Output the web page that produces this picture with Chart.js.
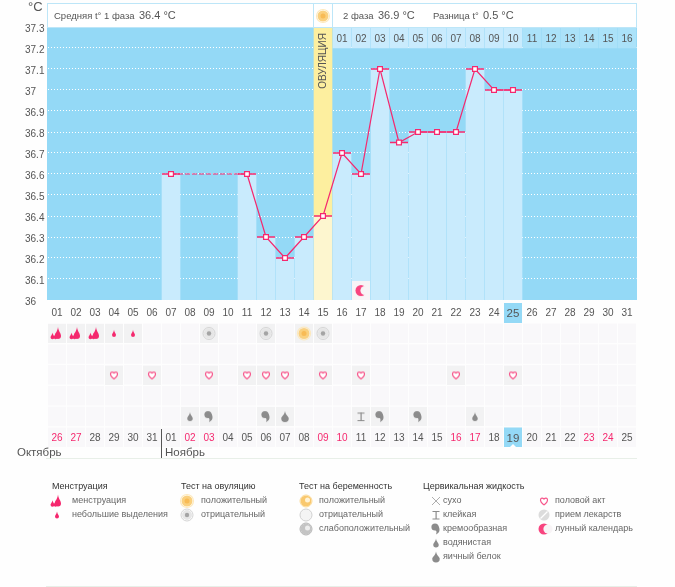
<!DOCTYPE html>
<html>
<head>
<meta charset="utf-8">
<style>
  body { margin: 0; background: #fefefe; }
  canvas { position: absolute; left: 0; }
</style>
<script src="https://cdn.jsdelivr.net/npm/chart.js@4/dist/chart.umd.js"></script>
</head>
<body>
<canvas id="tempChart" width="675" height="323" style="top:0"></canvas>
<canvas id="rowsChart" width="675" height="264" style="top:323px"></canvas>
<script>
const days = ['01', '02', '03', '04', '05', '06', '07', '08', '09', '10', '11', '12', '13', '14', '15', '16', '17', '18', '19', '20', '21', '22', '23', '24', '25', '26', '27', '28', '29', '30', '31']
const dates = ['26', '27', '28', '29', '30', '31', '01', '02', '03', '04', '05', '06', '07', '08', '09', '10', '11', '12', '13', '14', '15', '16', '17', '18', '19', '20', '21', '22', '23', '24', '25']
const redDates = [0, 1, 7, 8, 14, 15, 21, 22, 28, 29]
const temps = [null, null, null, null, null, null, 36.6, null, null, null, 36.6, 36.3, 36.2, 36.3, 36.4, 36.7, 36.6, 37.1, 36.75, 36.8, 36.8, 36.8, 37.1, 37, 37, null, null, null, null, null, null]
const yTicks = [36, 36.1, 36.2, 36.3, 36.4, 36.5, 36.6, 36.7, 36.8, 36.9, 37, 37.1, 37.2, 37.3]
const phase2Days = ['01', '02', '03', '04', '05', '06', '07', '08', '09', '10', '11', '12', '13', '14', '15', '16']
const ovulationDay = '15'
const today = '25'
const moonDays = ['17']

const heavyDays = ['01', '02', '03']
const lightDays = ['04', '05']
const ovuPosDays = ['14']
const ovuNegDays = ['09', '12', '15']
const sexDays = ['04', '06', '09', '11', '12', '13', '15', '17', '22', '25']
const wateryDays = ['08', '23']
const creamyDays = ['09', '12', '18', '20']
const eggDays = ['13']
const stickyDays = ['17']

const PINK = '#f5286e'
const GREY = '#8c8c8c'
const TEXT = '#555'
const SKY = '#94d9f6'
const PALE = '#c9ebfd'
const FAMILY = 'Liberation Sans'
const FONT = '"Liberation Sans"'

function drop (ctx, x, y, w, h, color) {
  ctx.fillStyle = color
  ctx.beginPath()
  ctx.moveTo(x, y - h / 2)
  ctx.bezierCurveTo(x + w * 0.1, y - h * 0.1, x + w / 2, y, x + w / 2, y + h / 2 - w / 2)
  ctx.arc(x, y + h / 2 - w / 2, w / 2, 0, Math.PI)
  ctx.bezierCurveTo(x - w / 2, y, x - w * 0.1, y - h * 0.1, x, y - h / 2)
  ctx.fill()
}

function disc (ctx, x, y, r, color) {
  ctx.fillStyle = color
  ctx.beginPath()
  ctx.arc(x, y, r, 0, Math.PI * 2)
  ctx.fill()
}

function ring (ctx, x, y, r, color, width) {
  ctx.strokeStyle = color
  ctx.lineWidth = width
  ctx.beginPath()
  ctx.arc(x, y, r, 0, Math.PI * 2)
  ctx.stroke()
}

const icons = {
  heavy (ctx, x, y) {
    drop(ctx, x - 4.5, y + 2.5, 4, 6.5, PINK)
    drop(ctx, x + 1, y - 0.5, 6, 12, PINK)
    drop(ctx, x - 1.5, y + 2.5, 3.5, 6.5, PINK)
  },
  light (ctx, x, y) {
    drop(ctx, x, y, 4, 7, PINK)
  },
  ovuPos (ctx, x, y) {
    disc(ctx, x, y, 5.5, '#fad07e')
    ring(ctx, x, y, 6.5, '#fde9bd', 1.2)
    disc(ctx, x, y, 2.5, '#f8bb55')
  },
  ovuNeg (ctx, x, y) {
    disc(ctx, x, y, 5, '#e6e6e6')
    ring(ctx, x, y, 6, '#d4d4d4', 1)
    disc(ctx, x, y, 2.2, '#a4a4a4')
  },
  pregPos (ctx, x, y) {
    disc(ctx, x, y, 5.5, '#f9c86e')
    ring(ctx, x, y, 6, '#fbd996', 1)
    disc(ctx, x + 1.5, y - 1, 2.5, '#fff3d6')
  },
  pregNeg (ctx, x, y) {
    disc(ctx, x, y, 5.5, '#f4f4f4')
    ring(ctx, x, y, 6, '#cfcfcf', 1)
  },
  pregWeak (ctx, x, y) {
    disc(ctx, x, y, 5.5, '#c4c4c4')
    ring(ctx, x, y, 6, '#b4b4b4', 1)
    disc(ctx, x + 1.5, y - 1, 2.5, '#eee')
  },
  heart (ctx, x, y) {
    ctx.strokeStyle = '#f7578c'
    ctx.fillStyle = '#fff'
    ctx.lineWidth = 1.2
    ctx.beginPath()
    ctx.moveTo(x, y + 4)
    ctx.bezierCurveTo(x - 6, y - 0.5, x - 3, y - 5, x, y - 2)
    ctx.bezierCurveTo(x + 3, y - 5, x + 6, y - 0.5, x, y + 4)
    ctx.fill()
    ctx.stroke()
  },
  dry (ctx, x, y) {
    ctx.strokeStyle = '#999'
    ctx.lineWidth = 0.8
    ctx.beginPath()
    ctx.moveTo(x - 4, y - 4)
    ctx.lineTo(x + 4, y + 4)
    ctx.moveTo(x + 4, y - 4)
    ctx.lineTo(x - 4, y + 4)
    ctx.stroke()
  },
  sticky (ctx, x, y) {
    ctx.fillStyle = GREY
    ctx.fillRect(x - 3.5, y - 4, 7, 1)
    ctx.fillRect(x - 0.5, y - 4, 1.2, 8)
    ctx.fillRect(x - 3.5, y + 3.5, 7, 1)
  },
  creamy (ctx, x, y) {
    ctx.fillStyle = GREY
    ctx.beginPath()
    ctx.arc(x - 1, y - 2, 3.6, 0, Math.PI * 2)
    ctx.fill()
    ctx.beginPath()
    ctx.moveTo(x + 2.5, y - 3)
    ctx.bezierCurveTo(x + 4.5, y + 1, x + 3.5, y + 4, x, y + 5.5)
    ctx.bezierCurveTo(x + 1, y + 3, x + 0.5, y + 1.5, x - 1, y + 1)
    ctx.fill()
  },
  watery (ctx, x, y) {
    drop(ctx, x, y, 5.5, 9, GREY)
  },
  egg (ctx, x, y) {
    drop(ctx, x, y, 7.5, 11, GREY)
  },
  pill (ctx, x, y) {
    disc(ctx, x, y, 5.5, '#dcdcdc')
    ctx.strokeStyle = '#fff'
    ctx.lineWidth = 1.2
    ctx.beginPath()
    ctx.moveTo(x - 3.5, y + 3.5)
    ctx.lineTo(x + 3.5, y - 3.5)
    ctx.stroke()
  },
  moon (ctx, x, y) {
    disc(ctx, x, y, 5.5, '#f8447f')
    disc(ctx, x + 4, y, 4.6, '#f8f4f6')
  }
}

function cellIcon (name, bg) {
  const c = document.createElement('canvas')
  c.width = 18
  c.height = 19
  const g = c.getContext('2d')
  g.fillStyle = bg
  g.fillRect(0, 0, 18, 19)
  icons[name](g, 9, 9.5)
  return c
}

function text (ctx, str, x, y, font, color, align) {
  ctx.font = font
  ctx.fillStyle = color
  ctx.textAlign = align || 'left'
  ctx.textBaseline = 'middle'
  ctx.fillText(str, x, y)
}

const tempPlugin = {
  id: 'tempExtras',
  beforeDraw (chart) {
    const ctx = chart.ctx
    const { left, top, width, height } = chart.chartArea
    ctx.fillStyle = SKY
    ctx.fillRect(left - 0.5, top, width + 1, height)
    ctx.fillRect(chart.scales.x.getPixelForValue(days.indexOf(today)) - 9, 303, 18, 20)
  },
  afterDraw (chart) {
    const ctx = chart.ctx
    const x = chart.scales.x
    const y = chart.scales.y
    const ovuX = x.getPixelForValue(days.indexOf(ovulationDay))
    const topY = y.getPixelForValue(37.3)

    ctx.save()
    // шапка над графиком
    ctx.fillStyle = '#fff'
    ctx.fillRect(47, 3, 590, 24)
    ctx.strokeStyle = '#bde6f8'
    ctx.lineWidth = 1
    ctx.strokeRect(47.5, 3.5, 589, 24)
    ctx.beginPath()
    ctx.moveTo(313.5, 3)
    ctx.lineTo(313.5, 27)
    ctx.moveTo(332.5, 3)
    ctx.lineTo(332.5, 27)
    ctx.stroke()
    icons.ovuPos(ctx, ovuX, 16)

    text(ctx, '°C', 28, 7, '13px ' + FONT, TEXT)
    text(ctx, 'Средняя t° 1 фаза', 54, 16, '9.5px ' + FONT, TEXT)
    text(ctx, '36.4 °C', 139, 16, '11px ' + FONT, TEXT)
    text(ctx, '2 фаза', 343, 16, '9.5px ' + FONT, TEXT)
    text(ctx, '36.9 °C', 378, 16, '11px ' + FONT, TEXT)
    text(ctx, 'Разница t°', 433, 16, '9.5px ' + FONT, TEXT)
    text(ctx, '0.5 °C', 483, 16, '11px ' + FONT, TEXT)

    phase2Days.forEach((d, i) => {
      const px = x.getPixelForValue(days.indexOf(ovulationDay) + 1 + i)
      text(ctx, d, px, topY + 12, '10px ' + FONT, TEXT, 'center')
    })

    ctx.translate(ovuX, topY + 34)
    ctx.rotate(-Math.PI / 2)
    text(ctx, 'ОВУЛЯЦИЯ', 0, 0, '10px ' + FONT, TEXT, 'center')
    ctx.restore()
  }
}

new Chart(document.getElementById('tempChart'), {
  data: {
    labels: days,
    datasets: [
      {
        type: 'line',
        order: 1,
        data: temps,
        spanGaps: true,
        clip: false,
        borderColor: PINK,
        borderWidth: 1.2,
        pointStyle: 'rect',
        pointRadius: 3.4,
        pointBorderWidth: 1.2,
        pointBackgroundColor: '#fff',
        pointBorderColor: PINK,
        segment: {
          borderDash: ctx => (temps[ctx.p1DataIndex - 1] === null ? [5, 2] : undefined)
        }
      },
      {
        type: 'line',
        order: 2,
        data: temps,
        showLine: false,
        pointStyle: 'line',
        pointRadius: 9,
        pointBorderWidth: 1.3,
        pointBorderColor: PINK
      },
      {
        type: 'line',
        order: 3,
        data: moonDays.map(d => ({ x: d, y: 36.045 })),
        showLine: false,
        clip: false,
        pointStyle: cellIcon('moon', '#f8f4f6')
      },
      {
        type: 'bar',
        order: 4,
        data: temps.map(t => (t === null ? null : [36, t])),
        backgroundColor: ctx => (days[ctx.dataIndex] === ovulationDay ? '#fdf6cf' : PALE)
      },
      {
        type: 'bar',
        order: 5,
        data: days.map((d, i) => (d === ovulationDay ? [temps[i], 37.3] : null)),
        backgroundColor: '#fdef9f'
      },
      {
        type: 'bar',
        order: 6,
        data: days.map((d, i) => (i > days.indexOf(ovulationDay) ? [37.2, 37.3] : null)),
        backgroundColor: ctx => (temps[ctx.dataIndex] !== null ? PALE : '#abe2f9')
      }
    ]
  },
  options: {
    responsive: false,
    animation: false,
    events: [],
    layout: { autoPadding: false, padding: { left: 25, right: 38.5, top: 27, bottom: 0 } },
    datasets: { bar: { grouped: false, barThickness: 18 } },
    plugins: { legend: { display: false }, tooltip: { enabled: false } },
    scales: {
      x: {
        type: 'category',
        labels: days,
        afterFit: scale => { scale.height = 23 },
        grid: { display: false, drawTicks: false },
        border: { display: false },
        ticks: {
          autoSkip: false,
          maxRotation: 0,
          padding: 7,
          color: TEXT,
          font: ctx => ({ family: FAMILY, size: days[ctx.index] === today ? 11.5 : 10 })
        }
      },
      y: {
        min: 36,
        max: 37.3,
        afterBuildTicks: scale => { scale.ticks = yTicks.map(v => ({ value: v })) },
        afterFit: scale => { scale.width = 22.5 },
        grid: {
          drawTicks: false,
          color: ctx => (ctx.tick.value === 37.3 ? 'rgba(255,255,255,0.25)' : '#fff')
        },
        border: { display: false, dash: [1, 2] },
        ticks: {
          crossAlign: 'far',
          padding: 0,
          labelOffset: 2,
          color: TEXT,
          font: { family: FAMILY, size: 10 },
          callback: v => String(v)
        }
      }
    }
  },
  plugins: [tempPlugin]
})

const legendGroups = [
  { title: 'Менструация', titleX: 52, iconX: 57, textX: 72, items: [['heavy', 'менструация'], ['light', 'небольшие выделения']] },
  { title: 'Тест на овуляцию', titleX: 181, iconX: 187, textX: 201, items: [['ovuPos', 'положительный'], ['ovuNeg', 'отрицательный']] },
  { title: 'Тест на беременность', titleX: 299, iconX: 306, textX: 319, items: [['pregPos', 'положительный'], ['pregNeg', 'отрицательный'], ['pregWeak', 'слабоположительный']] },
  { title: 'Цервикальная жидкость', titleX: 423, iconX: 436, textX: 443, items: [['dry', 'сухо'], ['sticky', 'клейкая'], ['creamy', 'кремообразная'], ['watery', 'водянистая'], ['egg', 'яичный белок']] },
  { title: '', titleX: 544, iconX: 544, textX: 555, items: [['heart', 'половой акт'], ['pill', 'прием лекарств'], ['moon', 'лунный календарь']] }
]

const rowsPlugin = {
  id: 'rowsExtras',
  beforeDraw (chart) {
    const ctx = chart.ctx
    const x = chart.scales.x
    const y = chart.scales.y
    ctx.save()
    ctx.fillStyle = '#f9f8fa'
    days.forEach((d, i) => {
      const px = x.getPixelForValue(i) - 9
      for (let r = 0; r < 6; r++) {
        ctx.fillRect(px, y.getPixelForValue(r) + 0.5, 18, 19.5)
      }
    })
    ctx.fillStyle = SKY
    ctx.fillRect(x.getPixelForValue(days.indexOf(today)) - 9, y.getPixelForValue(5) + 0.5, 18, 19.5)
    ctx.restore()
  },
  afterDraw (chart) {
    const ctx = chart.ctx
    const bottom = chart.scales.y.getPixelForValue(5)
    ctx.save()
    text(ctx, 'Октябрь', 17, bottom + 26, '11.5px ' + FONT, TEXT)
    text(ctx, 'Ноябрь', 165, bottom + 26, '11.5px ' + FONT, TEXT)
    ctx.fillStyle = '#555'
    ctx.fillRect(161, bottom + 2, 1, 29)
    ctx.fillStyle = '#e8efe8'
    ctx.fillRect(46, bottom + 31, 591, 1)
    ctx.fillRect(46, 263, 591, 1)

    // треугольник под сегодняшней датой
    const tx = chart.scales.x.getPixelForValue(days.indexOf(today))
    ctx.fillStyle = '#fff'
    ctx.beginPath()
    ctx.moveTo(tx - 3, bottom + 20)
    ctx.lineTo(tx + 3, bottom + 20)
    ctx.lineTo(tx, bottom + 17)
    ctx.fill()

    legendGroups.forEach(g => {
      if (g.title) text(ctx, g.title, g.titleX, 164, '9px ' + FONT, '#333')
      g.items.forEach(([icon, label], i) => {
        const rowY = 178 + i * 14
        ctx.save()
        icons[icon](ctx, g.iconX, rowY)
        ctx.restore()
        text(ctx, label, g.textX, rowY, '9px ' + FONT, '#666')
      })
    })
    ctx.restore()
  }
}

function rowSet (list, row, icon) {
  return {
    data: list.map(d => ({ x: d, y: row + 0.5 })),
    showLine: false,
    clip: false,
    pointStyle: cellIcon(icon, '#f2f2f3')
  }
}

new Chart(document.getElementById('rowsChart'), {
  type: 'line',
  data: {
    labels: days,
    datasets: [
      rowSet(heavyDays, 0, 'heavy'),
      rowSet(lightDays, 0, 'light'),
      rowSet(ovuPosDays, 0, 'ovuPos'),
      rowSet(ovuNegDays, 0, 'ovuNeg'),
      rowSet(sexDays, 2, 'heart'),
      rowSet(wateryDays, 4, 'watery'),
      rowSet(creamyDays, 4, 'creamy'),
      rowSet(eggDays, 4, 'egg'),
      rowSet(stickyDays, 4, 'sticky')
    ]
  },
  options: {
    responsive: false,
    animation: false,
    events: [],
    layout: { autoPadding: false, padding: { left: 47.5, right: 38.5, top: 0, bottom: 140 } },
    plugins: { legend: { display: false }, tooltip: { enabled: false } },
    scales: {
      x: {
        type: 'category',
        labels: days,
        offset: true,
        afterFit: scale => { scale.height = 20 },
        grid: { display: false, drawTicks: false },
        border: { display: false },
        ticks: {
          autoSkip: false,
          maxRotation: 0,
          padding: 5,
          color: ctx => (redDates.includes(ctx.index) ? PINK : TEXT),
          font: ctx => ({ family: FAMILY, size: days[ctx.index] === today ? 11.5 : 10 }),
          callback: (v, i) => dates[i]
        }
      },
      y: {
        display: false,
        reverse: true,
        min: 0,
        max: 5
      }
    }
  },
  plugins: [rowsPlugin]
})
</script>
</body>
</html>
